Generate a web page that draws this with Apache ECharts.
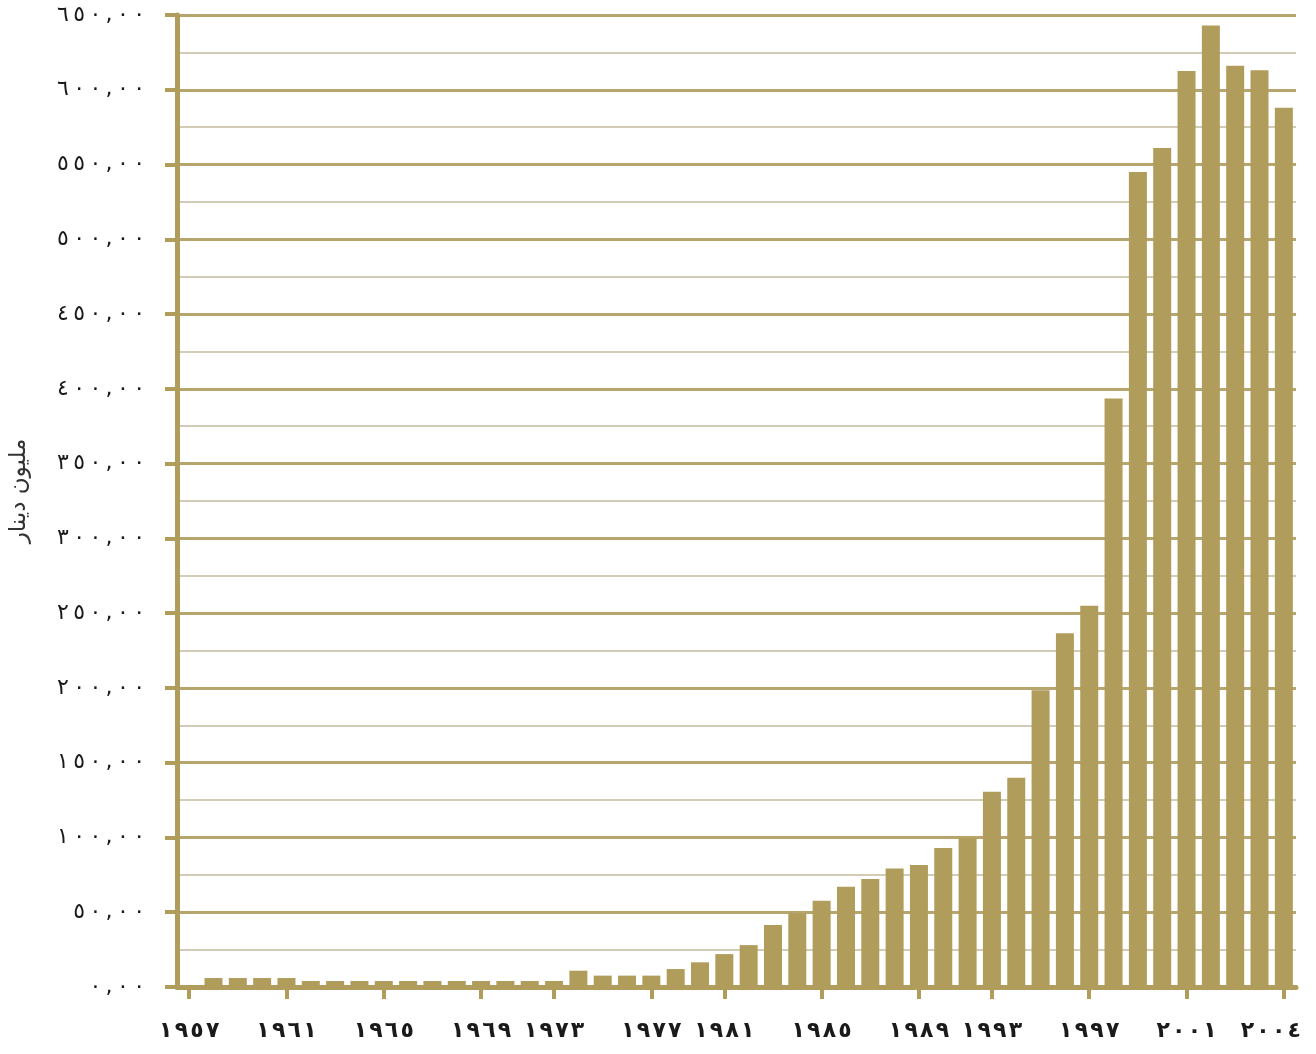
<!DOCTYPE html>
<html lang="ar">
<head>
<meta charset="utf-8">
<title>مليون دينار</title>
<script src="https://cdn.jsdelivr.net/npm/echarts@6/dist/echarts.min.js"></script>
<style>
  html, body { margin: 0; padding: 0; background: #ffffff; }
  #chart { width: 1316px; height: 1054px; }
</style>
</head>
<body>
<div id="chart"></div>
<script>
// years of the bars (first slot is empty)
const years = [
  1957, 1958, 1959, 1960, 1961, 1962, 1963, 1964, 1965, 1966,
  1967, 1968, 1969, 1970, 1971, 1972, 1973, 1974, 1975, 1976,
  1977, 1978, 1979, 1980, 1981, 1982, 1983, 1984, 1985, 1986,
  1987, 1988, 1989, 1990, 1991, 1992, 1993, 1994, 1995, 1996,
  1997, 1998, 1999, 2000, 2001, 2002
];

// values in million dinars
const values = [
  0, 6, 6, 6, 6, 4, 4, 4, 4, 4,
  4, 4, 4, 4, 4, 4, 10.9, 7.6, 7.6, 7.6,
  12, 16.5, 22, 28, 41.4, 49.2, 57.7, 67, 72.2, 79.3,
  81.6, 93, 99.6, 130.6, 140, 198.5, 236.5, 255, 393.5, 545,
  561, 612.5, 643, 616, 613, 588
];

// bottom labels as printed, and the slot each one sits under
const tickLabels = ['١٩٥٧', '١٩٦١', '١٩٦٥', '١٩٦٩', '١٩٧٣', '١٩٧٧', '١٩٨١',
                    '١٩٨٥', '١٩٨٩', '١٩٩٣', '١٩٩٧', '٢٠٠١', '٢٠٠٤'];
const tickIndex = [0, 4, 8, 12, 15, 19, 22, 26, 30, 33, 37, 41, 45];

const gold = '#b09c5b';
const arabicDigits = '٠١٢٣٤٥٦٧٨٩';
const toArabic = (s) => String(s).replace(/[0-9]/g, d => arabicDigits[d]);
// the printed labels are loosely spaced; LRM keeps the digits in order
const spaced = (s, gap) => s.split('').join('\u200E' + gap + '\u200E');

const xLabelStyle = { fontFamily: 'DejaVu Sans', fontSize: 22, fontWeight: 'bold', color: '#1a1a1a' };

const chart = echarts.init(document.getElementById('chart'));

const option = {
  animation: false,
  grid: { left: 176, right: 20, top: 15, bottom: 67 },
  xAxis: {
    type: 'category',
    data: years,
    axisLine: { show: true, lineStyle: { color: gold, width: 5 } },
    axisTick: {
      show: true,
      inside: false,
      alignWithLabel: true,
      interval: (i) => tickIndex.includes(i),
      length: 12,
      lineStyle: { color: gold, width: 4 }
    },
    axisLabel: {
      interval: (i) => tickIndex.includes(i),
      formatter: (v, i) => {
        const k = tickIndex.indexOf(i);
        if (k < 0) return '';
        const txt = spaced(tickLabels[k], '\u200A');
        // last label sits a little left of its tick, inside the page
        return k === tickLabels.length - 1 ? '{last|' + txt + '}' : txt;
      },
      margin: 33,
      ...xLabelStyle,
      rich: {
        last: { ...xLabelStyle, padding: [0, 26, 0, 0] }
      }
    },
    splitLine: { show: false }
  },
  yAxis: {
    type: 'value',
    min: 0,
    max: 650,
    interval: 50,
    name: 'مليون دينار',
    nameLocation: 'middle',
    nameGap: 146,
    nameTextStyle: { fontFamily: 'DejaVu Sans', fontSize: 23, color: '#333', padding: [0, 0, 0, 20] },
    axisLine: { show: true, lineStyle: { color: gold, width: 5 } },
    axisTick: { show: true, inside: false, length: 12, lineStyle: { color: gold, width: 4 } },
    axisLabel: {
      margin: 32,
      formatter: (v) => spaced(toArabic(v) + ',' + toArabic('00'), '\u2009'),
      fontFamily: 'DejaVu Sans',
      fontSize: 22,
      color: '#1a1a1a'
    },
    splitLine: { show: true, lineStyle: { color: '#b6a56c', width: 3 } },
    minorTick: { show: false, splitNumber: 2 },
    minorSplitLine: { show: true, lineStyle: { color: '#c4bca0', width: 1.5 } }
  },
  series: [
    {
      type: 'bar',
      data: values,
      barWidth: 18,
      itemStyle: { color: gold }
    }
  ]
};

chart.setOption(option);
</script>
</body>
</html>
